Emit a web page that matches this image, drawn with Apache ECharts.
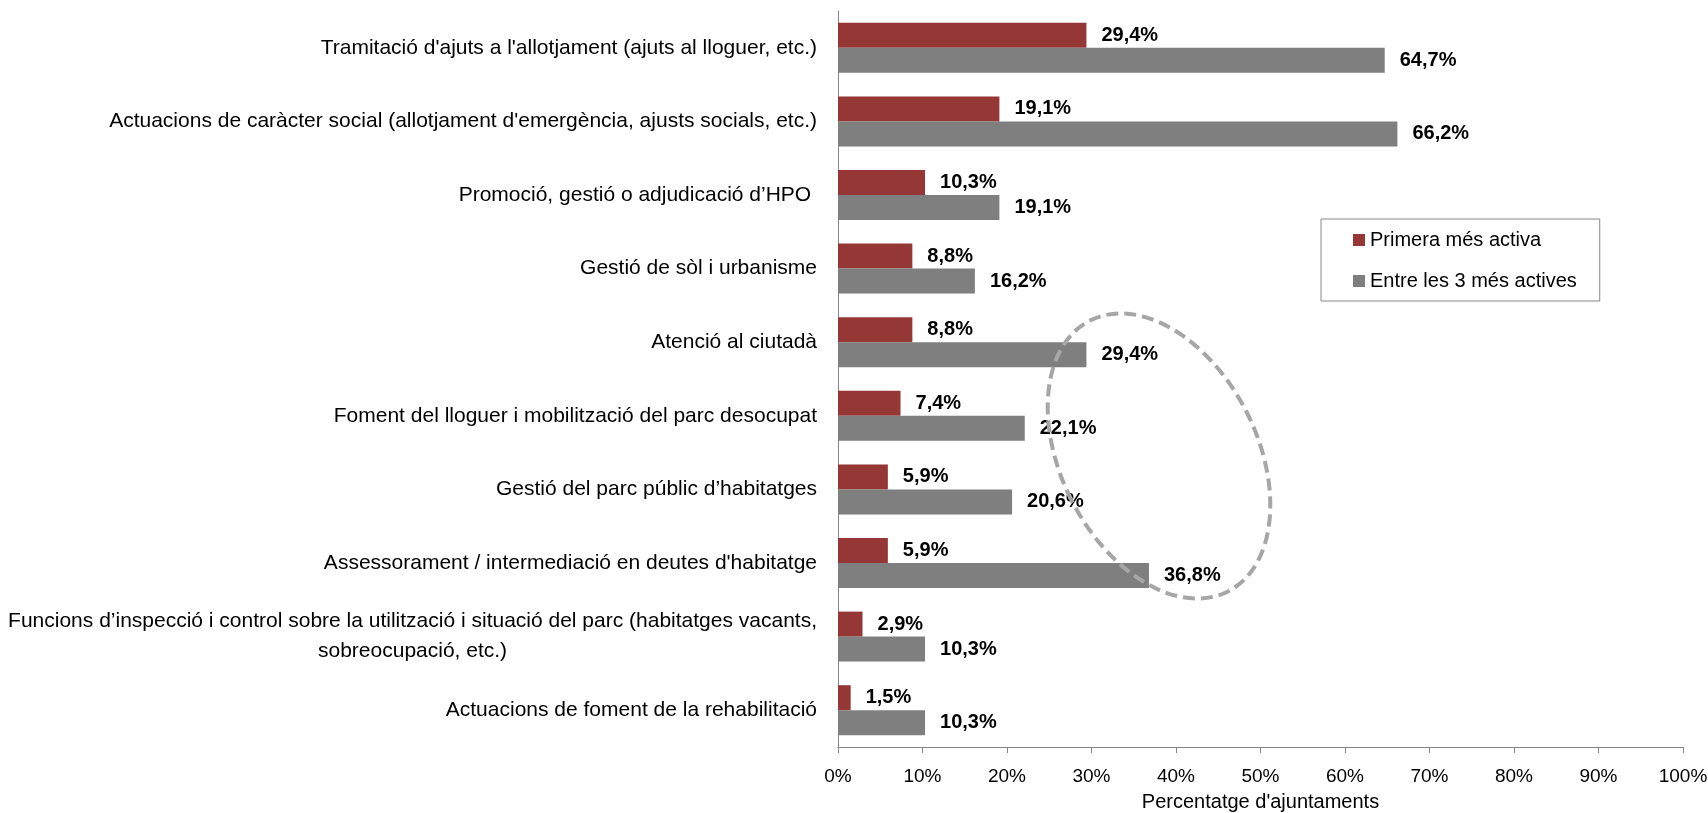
<!DOCTYPE html>
<html>
<head>
<meta charset="utf-8">
<script src="https://cdn.jsdelivr.net/npm/echarts@6/dist/echarts.min.js"></script>
<style>
  html, body { margin: 0; padding: 0; background: #fff; }
  #chart { width: 1708px; height: 813px; }
</style>
</head>
<body>
<div id="chart"></div>
<script>
// categories, top to bottom
const categories = [
  "Tramitació d'ajuts a l'allotjament (ajuts al lloguer, etc.)",
  "Actuacions de caràcter social (allotjament d'emergència, ajusts socials, etc.)",
  "Promoció, gestió o adjudicació d’HPO ",
  "Gestió de sòl i urbanisme",
  "Atenció al ciutadà",
  "Foment del lloguer i mobilització del parc desocupat",
  "Gestió del parc públic d’habitatges",
  "Assessorament / intermediació en deutes d'habitatge",
  "Funcions d’inspecció i control sobre la utilització i situació del parc (habitatges vacants,\nsobreocupació, etc.)",
  "Actuacions de foment de la rehabilitació"
]
const primeraMesActiva = [29.4, 19.1, 10.3, 8.8, 8.8, 7.4, 5.9, 5.9, 2.9, 1.5]
const entreLes3 = [64.7, 66.2, 19.1, 16.2, 29.4, 22.1, 20.6, 36.8, 10.3, 10.3]
const seriesNames = ['Primera més activa', 'Entre les 3 més actives']

const FONT = '"Liberation Sans Narrow", "Arial Narrow", sans-serif'
const FS = 20

let myChart = echarts.init(document.getElementById('chart'))

function pct(p) {
  return p.value.toFixed(1).replace('.', ',') + '%'
}

let option = {
  animation: false,
  textStyle: { fontFamily: FONT },
  grid: { left: 838, right: 25, top: 11, bottom: 66, outerBoundsMode: 'none' },
  legend: {
    orient: 'vertical',
    left: 1321,
    top: 219,
    padding: [11, 23, 10, 32],
    borderColor: '#888',
    borderWidth: 1,
    itemWidth: 12,
    itemHeight: 12,
    itemGap: 21,
    itemTextGap: 5,
    icon: 'rect',
    textStyle: { fontFamily: FONT, fontSize: FS, color: '#000' },
    data: seriesNames
  },
  xAxis: {
    type: 'value',
    min: 0,
    max: 100,
    interval: 10,
    name: "Percentatge d'ajuntaments",
    nameLocation: 'middle',
    nameGap: 45,
    nameTextStyle: { fontFamily: FONT, fontSize: FS, color: '#000' },
    axisLine: { show: true, lineStyle: { color: '#868686', width: 1 } },
    axisTick: { show: true, length: 6, lineStyle: { color: '#868686' } },
    axisLabel: { formatter: '{value}%', margin: 20, fontFamily: FONT, fontSize: 19, color: '#000' },
    splitLine: { show: false }
  },
  yAxis: {
    type: 'category',
    inverse: true,
    data: categories,
    axisLine: { show: true, lineStyle: { color: '#868686', width: 1 } },
    axisTick: { show: false },
    axisLabel: {
      margin: 21,
      fontFamily: FONT,
      fontSize: 21,
      color: '#000',
      lineHeight: 30,
      formatter: function (v) {
        if (v.indexOf('\n') < 0) return v
        return v.split('\n').map(s => '{c|' + s + '}').join('\n')
      },
      rich: {
        c: { align: 'center', fontFamily: FONT, fontSize: 21, color: '#000', lineHeight: 30 }
      }
    }
  },
  series: [
    {
      name: seriesNames[0],
      type: 'bar',
      data: primeraMesActiva,
      barWidth: 25,
      barGap: '0%',
      itemStyle: { color: '#953735' },
      label: {
        show: true, position: 'right', distance: 15,
        fontFamily: FONT, fontSize: FS, fontWeight: 'bold', color: '#000',
        formatter: pct
      }
    },
    {
      name: seriesNames[1],
      type: 'bar',
      data: entreLes3,
      barWidth: 25,
      barGap: '0%',
      itemStyle: { color: '#7F7F7F' },
      label: {
        show: true, position: 'right', distance: 15,
        fontFamily: FONT, fontSize: FS, fontWeight: 'bold', color: '#000',
        formatter: pct
      }
    }
  ],
  graphic: [
    {
      // dashed ellipse annotation
      type: 'ellipse',
      x: 1159,
      y: 456,
      rotation: 27 * Math.PI / 180,
      shape: { cx: 0, cy: 0, rx: 98, ry: 152 },
      style: { fill: null, stroke: '#A6A6A6', lineWidth: 4, lineDash: [12, 6] },
      z: 100
    }
  ]
}

myChart.setOption(option)
window.addEventListener('resize', function () {
  myChart.resize()
})
</script>
</body>
</html>
